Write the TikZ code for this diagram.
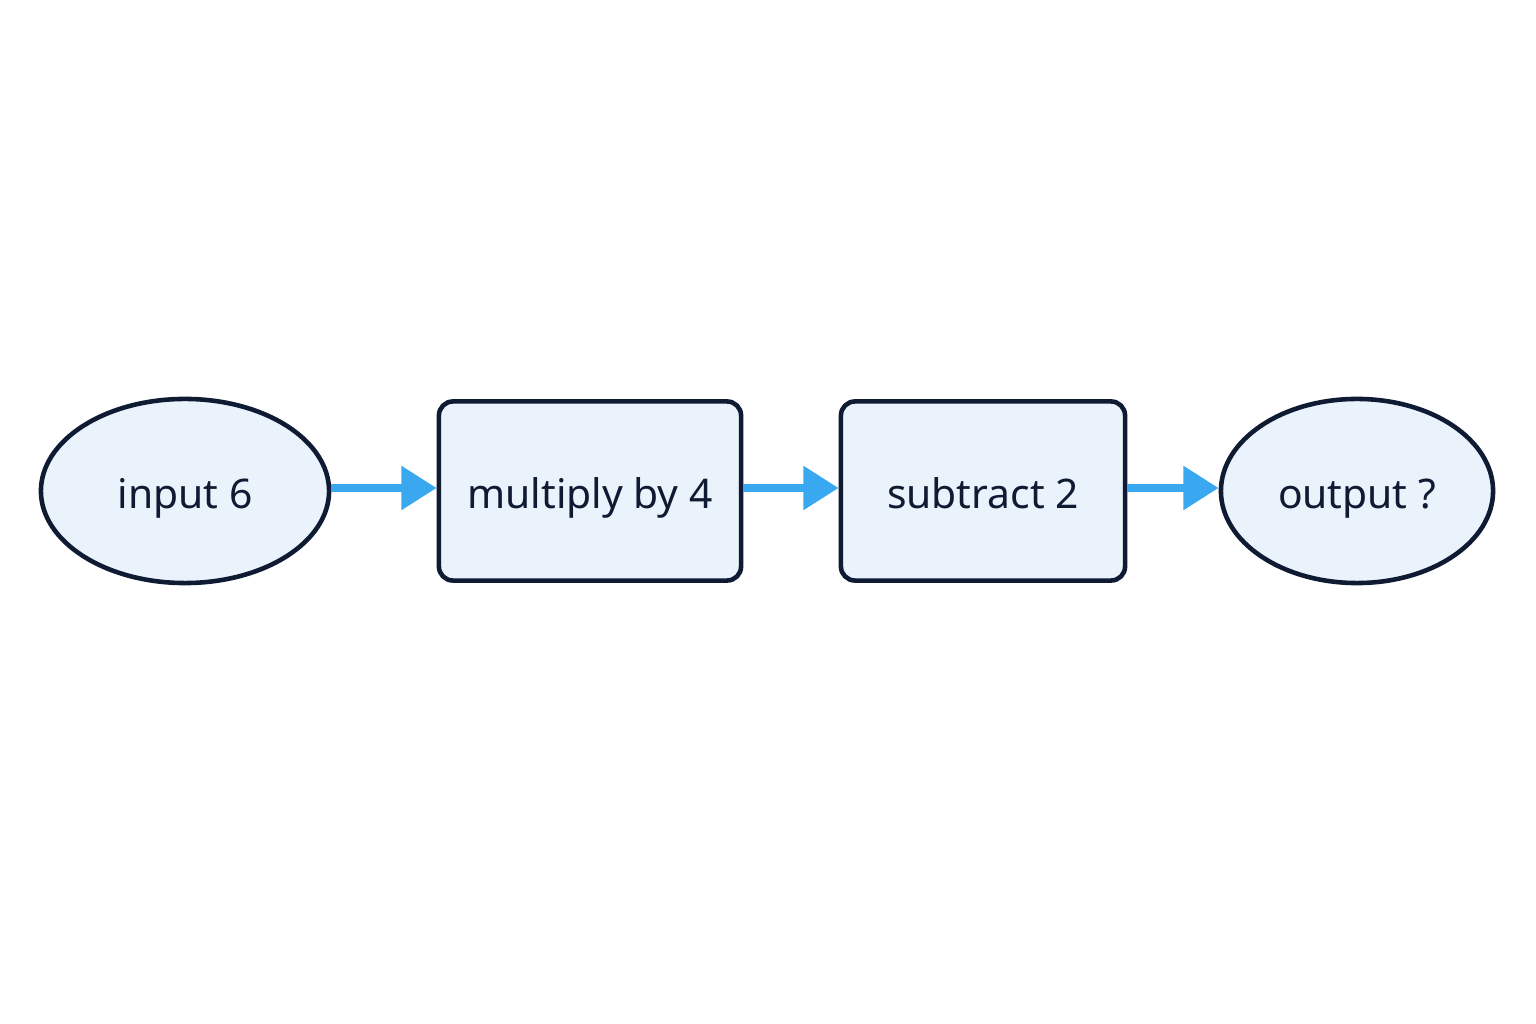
\documentclass[tikz,border=0pt]{standalone}
\usepackage{fontspec}
\setmainfont{Noto Sans}
\usetikzlibrary{shapes.geometric,arrows.meta}
\definecolor{fillb}{HTML}{EAF2FC}
\definecolor{edge}{HTML}{0F1A33}
\definecolor{arr}{HTML}{3AA8F0}
\tikzset{
  oval/.style={ellipse,draw=edge,fill=fillb,line width=1.3pt,inner sep=0pt},
  boxn/.style={rectangle,rounded corners=4pt,draw=edge,fill=fillb,line width=1.3pt,inner sep=0pt},
  conn/.style={draw=arr,line width=2.2pt,-{Triangle[length=10pt,width=12pt]}},
  lbl/.style={font=\fontsize{11.6}{14}\selectfont,text=edge,text height=0.42cm,text depth=0.08cm}
}
\begin{document}
\begin{tikzpicture}[x=0.01cm,y=0.01cm]
\useasboundingbox (0,0) rectangle (1536,1024);
\node[oval,minimum width=2.88cm,minimum height=1.84cm,lbl] (in) at (185,533) {input 6};
\node[boxn,minimum width=3.02cm,minimum height=1.79cm,lbl] (m) at (590,533) {multiply by 4};
\node[boxn,minimum width=2.84cm,minimum height=1.79cm,lbl] (s) at (983,533) {subtract 2};
\node[oval,minimum width=2.72cm,minimum height=1.84cm,lbl] (out) at (1357,533) {output ?};
\draw[conn] ([yshift=0.03cm]in.east) -- ([yshift=0.03cm]m.west);
\draw[conn] ([yshift=0.03cm]m.east) -- ([yshift=0.03cm]s.west);
\draw[conn] ([yshift=0.03cm]s.east) -- ([yshift=0.03cm]out.west);
\end{tikzpicture}
\end{document}
